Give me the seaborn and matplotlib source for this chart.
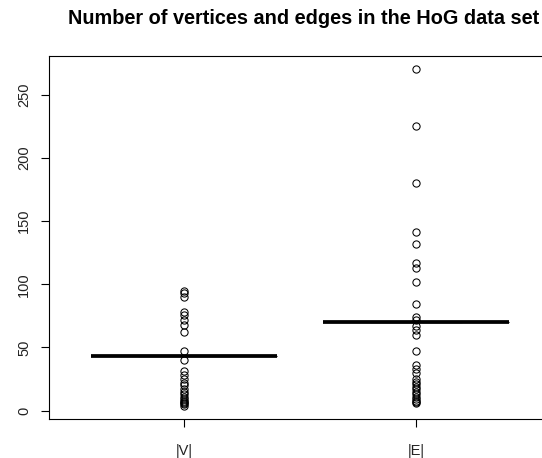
import numpy as np
import pandas as pd
import matplotlib
matplotlib.use("Agg")
import matplotlib.pyplot as plt
import seaborn as sns

# ---- data ----
categories = ["|V|", "|E|"]
v_median = 43
e_median = 70
core_count = 60  # graphs sitting at the median (degenerate box)
v_outliers = [95, 93, 90, 78, 76, 72, 68, 62, 47, 40, 31, 28, 25, 22, 20,
              17, 15, 13, 11, 9, 8, 7, 6, 5, 4]
e_outliers = [270, 225, 180, 141, 132, 117, 113, 102, 84, 74, 72, 67, 64, 60,
              47, 36, 33, 30, 25, 23, 21, 19, 17, 15, 13, 11, 9, 8, 7, 6]
y_ticks = [0, 50, 100, 150, 200, 250]
title = "Number of vertices and edges in the HoG data set"

v_values = v_outliers + [v_median] * core_count
e_values = e_outliers + [e_median] * core_count
df = pd.DataFrame({
    "set": [categories[0]] * len(v_values) + [categories[1]] * len(e_values),
    "value": v_values + e_values,
})

sns.set_theme(style="white")
plt.rcParams["font.family"] = ["Liberation Sans", "DejaVu Sans"]

W, H = 542, 458
fig = plt.figure(figsize=(W / 100, H / 100), dpi=100)
ax = fig.add_axes([49.4 / W, 39 / H, 501.2 / W, 363 / H])

sns.boxplot(
    data=df, x="set", y="value", order=categories, ax=ax,
    color="white", linecolor="black", linewidth=0.8, width=0.8,
    whis=1.5,
    medianprops=dict(linewidth=2.7, color="black", solid_capstyle="butt"),
    flierprops=dict(marker="o", markerfacecolor="none", markeredgecolor="black",
                    markersize=5.2, markeredgewidth=0.75),
)

vmin = min(v_values + e_values)
vmax = max(v_values + e_values)
rng = vmax - vmin
ax.set_ylim(vmin - 0.04 * rng, vmax + 0.04 * rng)
ax.set_xlim(-0.58, 1.58)
ax.set_yticks(y_ticks)
ax.set_yticklabels([str(t) for t in y_ticks], rotation=90, va="center")
ax.set_xlabel("")
ax.set_ylabel("")

for s in ax.spines.values():
    s.set_visible(True)
    s.set_color("black")
    s.set_linewidth(0.8)
ax.spines["right"].set_visible(False)

ax.tick_params(axis="both", which="both", length=6, width=0.8, color="black",
               labelsize=10.5, labelcolor="#222222", direction="out")
ax.tick_params(axis="y", pad=7, left=True)
ax.tick_params(axis="x", pad=12, bottom=True)

fig.text(304 / W, 1 - 18 / H, title, ha="center", va="center",
         fontsize=14.3, fontweight="bold", color="black")

fig.savefig("out.png", dpi=100, facecolor="white")
